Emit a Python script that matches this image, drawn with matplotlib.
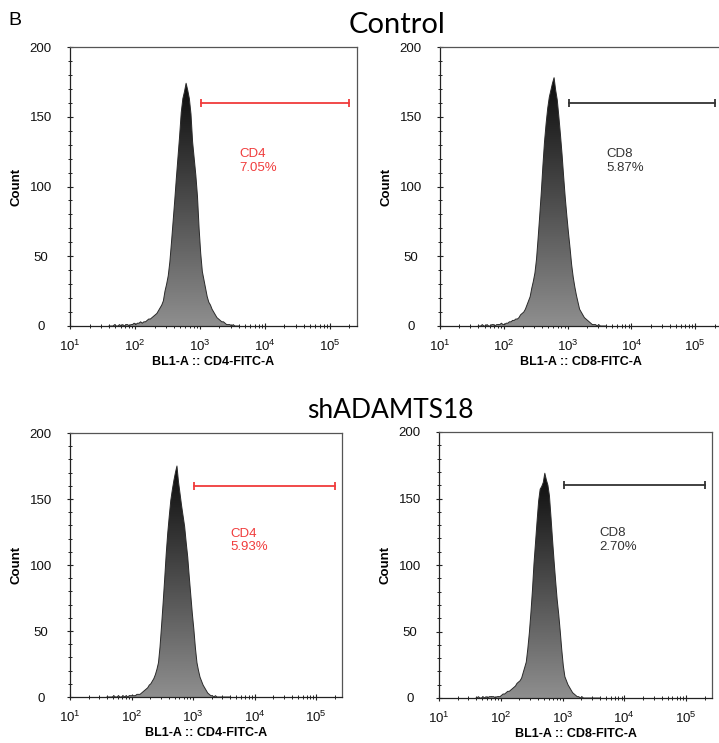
import numpy as np
import matplotlib
matplotlib.use("Agg")
import matplotlib.pyplot as plt
from matplotlib.patches import Polygon
from matplotlib.colors import LinearSegmentedColormap
from matplotlib.ticker import MultipleLocator, LogLocator, NullFormatter

plt.rcParams['font.family'] = ['Liberation Sans', 'DejaVu Sans']
plt.rcParams['mathtext.fontset'] = 'custom'
plt.rcParams['mathtext.rm'] = 'Liberation Sans'
plt.rcParams['mathtext.default'] = 'regular'

# histogram channels: 80 bins, 0.025 decade wide, 10^1.6 .. 10^3.6
log_edges = np.linspace(1.6, 3.6, 81)

ctrl_cd4 = [0, 0, 0, 1, 0, 0, 1, 0, 1, 0,
            1, 1, 0, 1, 1, 2, 1, 2, 2, 3,
            2, 3, 3, 4, 5, 5, 6, 7, 8, 9,
            11, 13, 15, 18, 25, 30, 36, 46, 60, 75,
            90, 106, 121, 136, 153, 163, 168, 174, 169, 163,
            152, 132, 120, 108, 93, 70, 52, 39, 33, 27,
            21, 17, 15, 12, 10, 8, 6, 5, 4, 3,
            3, 2, 1, 1, 1, 0, 1, 0, 0, 0]

ctrl_cd8 = [0, 0, 1, 0, 0, 1, 0, 0, 1, 1,
            0, 1, 1, 1, 2, 1, 1, 2, 2, 3,
            3, 4, 4, 5, 5, 6, 8, 9, 10, 12,
            15, 18, 21, 27, 32, 38, 48, 63, 79, 96,
            115, 132, 145, 156, 164, 169, 174, 178, 169, 162,
            150, 137, 123, 107, 92, 79, 67, 56, 44, 35,
            28, 22, 17, 12, 10, 8, 6, 5, 4, 3,
            2, 1, 1, 1, 0, 1, 0, 0, 0, 0]

sh_cd4 = [0, 0, 0, 0, 1, 0, 0, 1, 0, 0,
          1, 0, 1, 0, 1, 1, 1, 1, 1, 2,
          2, 2, 3, 4, 5, 6, 7, 9, 10, 12,
          14, 17, 21, 26, 38, 54, 71, 89, 108, 124,
          137, 149, 157, 164, 170, 175, 163, 154, 145, 137,
          129, 117, 106, 91, 77, 63, 51, 37, 26, 20,
          15, 12, 9, 7, 5, 3, 2, 1, 1, 0,
          1, 0, 0, 0, 0, 0, 0, 0, 0, 0]

sh_cd8 = [0, 1, 0, 0, 1, 0, 1, 0, 1, 1,
          1, 1, 0, 1, 1, 1, 2, 3, 3, 4,
          5, 5, 6, 7, 8, 9, 11, 12, 13, 15,
          19, 23, 27, 37, 49, 64, 81, 101, 117, 133,
          148, 157, 159, 162, 169, 164, 160, 152, 136, 119,
          103, 88, 74, 63, 50, 36, 24, 16, 13, 10,
          8, 6, 4, 3, 2, 1, 1, 0, 1, 0,
          0, 0, 0, 0, 0, 0, 0, 0, 0, 0]

markers = ['CD4', 'CD8', 'CD4', 'CD8']
percents = ['7.05%', '5.87%', '5.93%', '2.70%']
xlabels = ['BL1-A :: CD4-FITC-A', 'BL1-A :: CD8-FITC-A',
           'BL1-A :: CD4-FITC-A', 'BL1-A :: CD8-FITC-A']
gate_lo, gate_hi, gate_y = 1.05e3, 2.0e5, 160
label_x, label_y = 10**3.6, 118.5

W, H = 719, 743
# axes boxes in pixels: left, top, right, bottom
boxes = [(70, 47, 357, 326), (440, 47, 722, 326),
         (70, 433, 342, 697), (439, 432, 712, 698)]
colors = ['#f03c3c', '#333333', '#f03c3c', '#333333']

fill_cmap = LinearSegmentedColormap.from_list('fill', ['#8e8e8e', '#0c0c0c'])

fig = plt.figure(figsize=(W / 100, H / 100), dpi=100)


def draw_hist(ax, counts, color, marker, pct, xlabel, box):
    counts = np.asarray(counts, dtype=float)
    centers = 0.5 * (log_edges[:-1] + log_edges[1:])
    xs = 10 ** np.concatenate([[log_edges[0]], centers, [log_edges[-1]]])
    ys = np.concatenate([[0], counts, [0]])

    ax.set_xscale('log')
    # vertical grey gradient, clipped to the histogram outline
    grad = np.linspace(0, 1, 256).reshape(-1, 1)
    img = ax.imshow(grad, extent=[xs[0], xs[-1], 0, counts.max()], origin='lower',
                    aspect='auto', cmap=fill_cmap, interpolation='bilinear', zorder=2)
    poly = Polygon(np.column_stack([xs, ys]), closed=True, facecolor='none',
                   edgecolor='none', transform=ax.transData)
    ax.add_patch(poly)
    img.set_clip_path(poly)
    ax.plot(xs, ys, color='#2a2a2a', lw=0.7, zorder=3)

    # gate bar
    ax.plot([gate_lo, gate_hi], [gate_y, gate_y], color=color, lw=1.3, zorder=4,
            marker='|', markersize=6, markeredgewidth=1.3)
    ax.text(label_x, label_y, f'{marker}\n{pct}', color=color, fontsize=9.5,
            ha='left', va='center', linespacing=1.2)

    ax.set_xlim(10, 262144)
    ax.set_ylim(0, 200)
    ax.set_yticks([0, 50, 100, 150, 200])
    ax.yaxis.set_minor_locator(MultipleLocator(10))
    ax.set_xticks([1e1, 1e2, 1e3, 1e4, 1e5])
    ax.set_xticklabels([f'$10^{{{k}}}$' for k in range(1, 6)])
    ax.xaxis.set_minor_locator(LogLocator(base=10, subs=np.arange(2, 10)))
    ax.xaxis.set_minor_formatter(NullFormatter())

    ax.tick_params(which='major', direction='inout', length=5, width=0.8,
                   color='#222222', labelsize=9.5, labelcolor='#111111')
    ax.tick_params(which='minor', direction='inout', length=2.5, width=0.7,
                   color='#222222')
    ax.tick_params(axis='y', which='major', pad=18.5)
    ax.tick_params(axis='x', which='major', pad=7)
    plt.setp(ax.get_yticklabels(), ha='center')

    for side in ['left', 'bottom']:
        ax.spines[side].set_color('#222222')
        ax.spines[side].set_linewidth(0.9)
    for side in ['top', 'right']:
        ax.spines[side].set_color('#555555')
        ax.spines[side].set_linewidth(0.9)

    l, t, r, b = box
    ax.set_ylabel('Count', fontsize=9.5, fontweight='bold', va='center')
    ax.yaxis.set_label_coords(-53 / (r - l), 0.5)
    ax.set_xlabel(xlabel, fontsize=9, fontweight='bold', va='center')
    ax.xaxis.set_label_coords(0.5, -36 / (b - t))


data = [ctrl_cd4, ctrl_cd8, sh_cd4, sh_cd8]
for i in range(4):
    l, t, r, b = boxes[i]
    ax = fig.add_axes([l / W, 1 - b / H, (r - l) / W, (b - t) / H])
    draw_hist(ax, data[i], colors[i], markers[i], percents[i], xlabels[i], boxes[i])

fig.text(8 / W, 1 - 25 / H, 'B', fontsize=14, va='baseline', ha='left')
fig.text(397 / W, 1 - 33 / H, 'Control', fontsize=21, family='Lato',
         ha='center', va='baseline')
fig.text(390 / W, 1 - 418 / H, 'shADAMTS18', fontsize=19, family='Lato',
         ha='center', va='baseline')

fig.savefig('out.png', dpi=100)
